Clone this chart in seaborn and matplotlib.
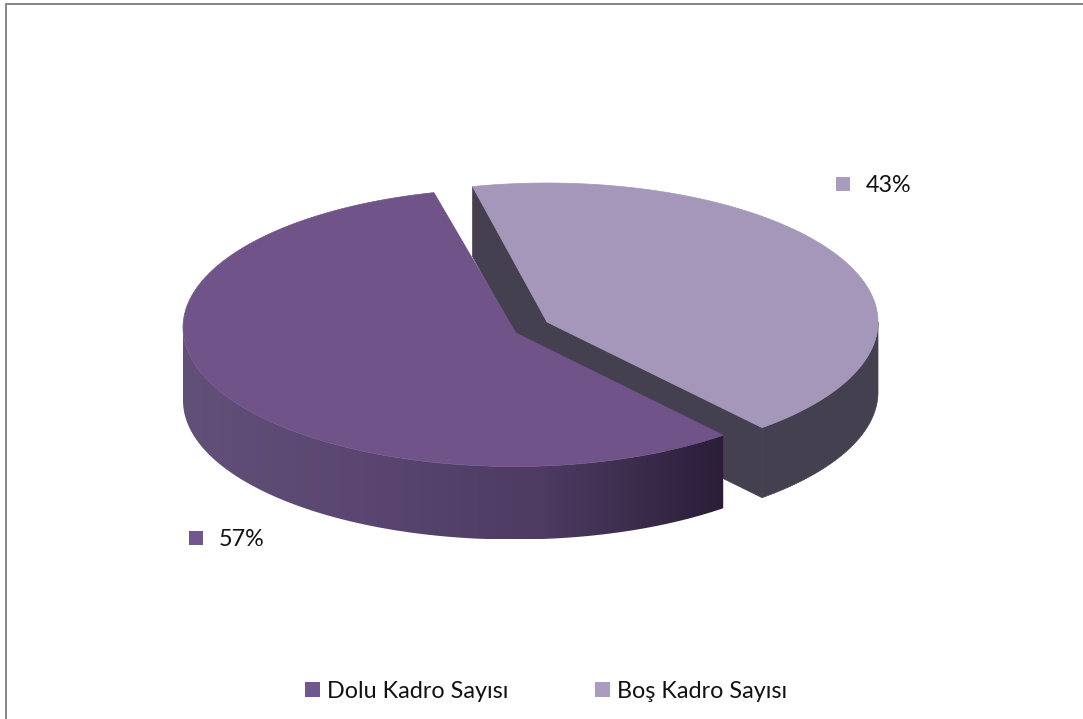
import numpy as np
import matplotlib
matplotlib.use("Agg")
import matplotlib.pyplot as plt
from matplotlib.patches import Patch, Polygon
from matplotlib.colors import LinearSegmentedColormap
import seaborn as sns

categories = ["Dolu Kadro Sayısı", "Boş Kadro Sayısı"]
values = [57, 43]
top_colors = ["#6f5389", "#a597b9"]
legend_colors = ["#72578f", "#aa9bbf"]
light_wall_color = "#45404f"
dark_wall_stops = ["#625079", "#5a4670", "#4d3b62", "#2b1e38"]

sns.set_theme(style="white")
plt.rcParams["font.family"] = ["Lato", "DejaVu Sans"]

W, H = 1083, 719
fig = plt.figure(figsize=(W / 100, H / 100), dpi=100, facecolor="white")
ax = fig.add_axes([0, 0, 1, 1])

RX, RY = 331, 139
DARK_DEPTH, LIGHT_DEPTH = 73, 70
DARK_START, LIGHT_START = 104.0, 103.0
FORESHORTEN = 0.985         # perspective squeeze of the far slice
DARK_C = (514, 327.5)
DARK_APEX = (516, 333)
LIGHT_C = (547, 322)

total = sum(values)
end_light = LIGHT_START - values[1] / total * 360 * FORESHORTEN
end_dark = DARK_START + values[0] / total * 360


def arc(center, a0, a1, n=200):
    t = np.radians(np.linspace(a0, a1, n))
    return np.column_stack([center[0] + RX * np.cos(t), center[1] - RY * np.sin(t)])


def wall(center, a0, a1, depth):
    top = arc(center, a0, a1)
    bottom = top[::-1] + [0, depth]
    return np.vstack([top, bottom])


# light slice: inner cut walls
lx, ly = LIGHT_C
for angle in (LIGHT_START, end_light):
    p = arc(LIGHT_C, angle, angle, 1)[0]
    ax.add_patch(Polygon([(lx, ly), p, p + [0, LIGHT_DEPTH], (lx, ly + LIGHT_DEPTH)],
                         closed=True, fc=light_wall_color, ec=light_wall_color, lw=0.5))
# light slice: outer wall
ax.add_patch(Polygon(wall(LIGHT_C, end_light, 0, LIGHT_DEPTH), closed=True,
                     fc=light_wall_color, ec=light_wall_color, lw=0.5))
# light slice: top face
ax.add_patch(Polygon(np.vstack([[LIGHT_C], arc(LIGHT_C, LIGHT_START, end_light)]),
                     closed=True, fc=top_colors[1], ec=top_colors[1], lw=0.5))

# dark slice: outer wall with gradient
wall_pts = wall(DARK_C, 180, end_dark, DARK_DEPTH)
cmap = LinearSegmentedColormap.from_list("wall", dark_wall_stops)
img = ax.imshow(np.linspace(0, 1, 256)[None, :], cmap=cmap, aspect="auto",
                extent=[wall_pts[:, 0].min(), wall_pts[:, 0].max(),
                        wall_pts[:, 1].max(), wall_pts[:, 1].min()], zorder=3)
clip = Polygon(wall_pts, closed=True, transform=ax.transData, fc="none", ec="none")
ax.add_patch(clip)
img.set_clip_path(clip)
# dark slice: top face
ax.add_patch(Polygon(np.vstack([[DARK_APEX], arc(DARK_C, DARK_START, end_dark)]),
                     closed=True, fc=top_colors[0], ec=top_colors[0], lw=0.5, zorder=4))

# data labels
label_pos = [(196, 538), (843, 184)]
for (x, y), v, c in zip(label_pos, values, legend_colors):
    ax.scatter([x], [y], marker="s", s=104, color=c, linewidths=0, zorder=5)
    ax.text(x + 23, y + 1, f"{v}%", fontsize=16.8, color="#111111", va="center", ha="left", zorder=5)

ax.set_xlim(0, W)
ax.set_ylim(H, 0)
ax.axis("off")

handles = [Patch(fc=c, ec="none", label=n) for c, n in zip(legend_colors, categories)]
ax.legend(handles=handles, loc="center", bbox_to_anchor=(546 / W, 1 - 691 / H), ncols=2, frameon=False,
          fontsize=16.8, handlelength=0.643, handleheight=0.643, handletextpad=0.32,
          columnspacing=3.7, labelcolor="#111111", borderpad=0, borderaxespad=0)

# chart-area border: left and top sides only reach into the picture
bx = [5.7, 5.7, W + 2]
by = [H + 2, 4.2, 4.2]
ax.plot(bx, by, color="#868686", lw=1.4, solid_joinstyle="miter", clip_on=False, zorder=6)

fig.savefig("out.png", dpi=100, facecolor="white")
